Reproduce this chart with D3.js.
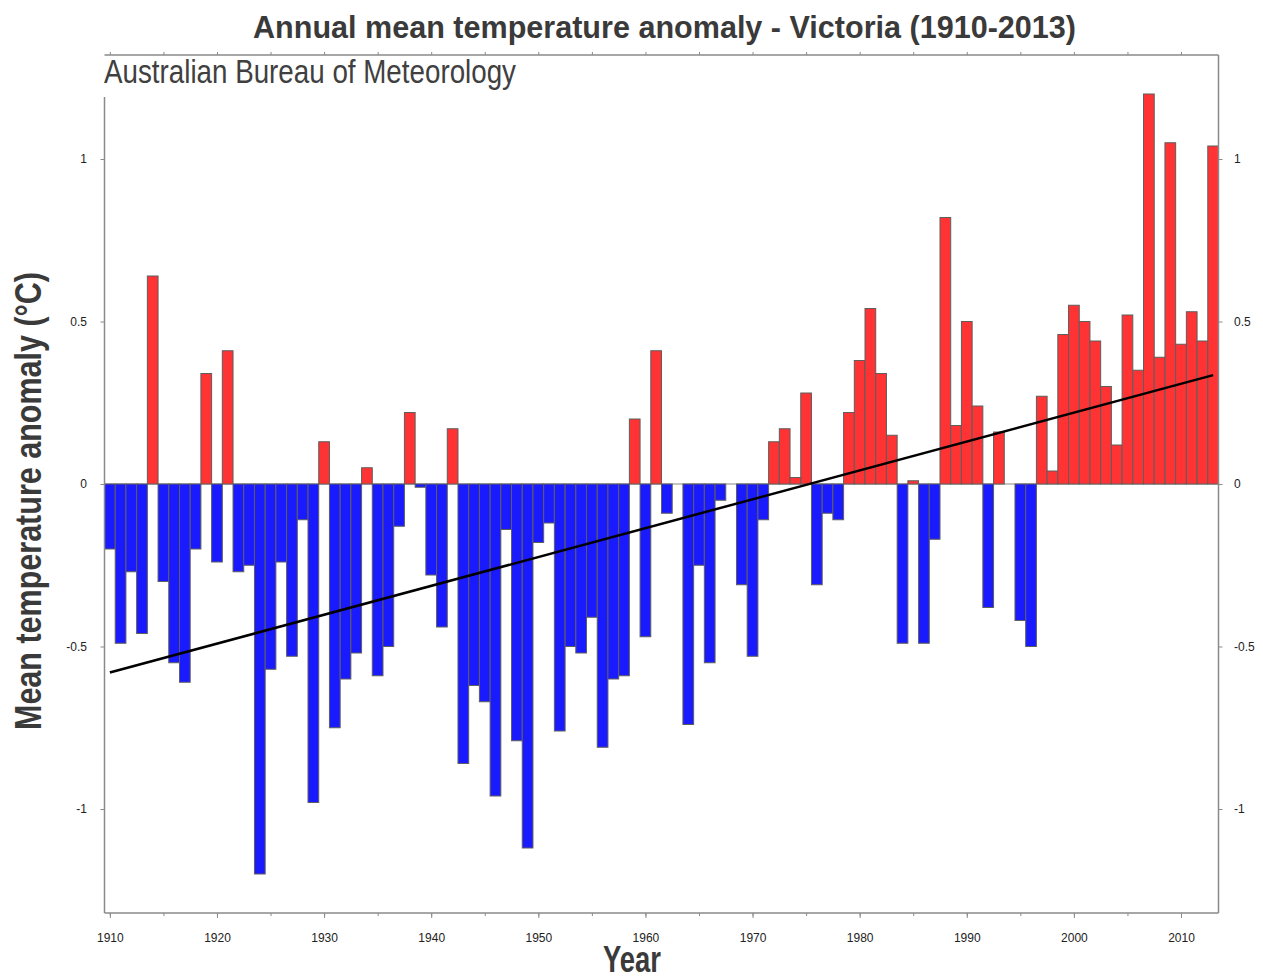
<!DOCTYPE html>
<html>
<head>
<meta charset="utf-8">
<script src="https://cdn.jsdelivr.net/npm/d3@7"></script>
<style>
  body { margin: 0; background: #fff; }
  svg { display: block; }
</style>
</head>
<body>
<div class="chart"></div>
<script>
// anomaly data
var years = d3.range(1910, 2014);
var anomalies = [
  -0.20, -0.49, -0.27, -0.46, 0.64, -0.30, -0.55, -0.61, -0.20, 0.34,
  -0.24, 0.41, -0.27, -0.25, -1.20, -0.57, -0.24, -0.53, -0.11, -0.98,
  0.13, -0.75, -0.60, -0.52, 0.05, -0.59, -0.50, -0.13, 0.22, -0.01,
  -0.28, -0.44, 0.17, -0.86, -0.62, -0.67, -0.96, -0.14, -0.79, -1.12,
  -0.18, -0.12, -0.76, -0.50, -0.52, -0.41, -0.81, -0.60, -0.59, 0.20,
  -0.47, 0.41, -0.09, 0.00, -0.74, -0.25, -0.55, -0.05, 0.00, -0.31,
  -0.53, -0.11, 0.13, 0.17, 0.02, 0.28, -0.31, -0.09, -0.11, 0.22,
  0.38, 0.54, 0.34, 0.15, -0.49, 0.01, -0.49, -0.17, 0.82, 0.18,
  0.50, 0.24, -0.38, 0.16, 0.00, -0.42, -0.50, 0.27, 0.04, 0.46,
  0.55, 0.50, 0.44, 0.30, 0.12, 0.52, 0.35, 1.20, 0.39, 1.05,
  0.43, 0.53, 0.44, 1.04
];
var trendYears = [1910, 2013];
var trendValues = [-0.58, 0.335];
var yTicks = [-1, -0.5, 0, 0.5, 1];
var xMajorTicks = d3.range(1910, 2011, 10);
var xMinorTicks = d3.range(1910, 2014, 5);

var svgWidth = 1263;
var svgHeight = 976;

var plot = { left: 104.5, right: 1218.5, top: 55, bottom: 913 };

var svg = d3.select(".chart")
  .append("svg")
  .attr("width", svgWidth)
  .attr("height", svgHeight);

var x = d3.scaleLinear()
  .domain([1909.5, 2013.5])
  .range([plot.left, plot.right]);

var y = d3.scaleLinear()
  .domain([-1.32, 1.32])
  .range([plot.bottom, plot.top]);

var data = years.map(function(yr, i) {
  return { year: yr, value: anomalies[i] };
});

// zero line
svg.append("line")
  .attr("x1", plot.left).attr("x2", plot.right)
  .attr("y1", y(0)).attr("y2", y(0))
  .attr("stroke", "#8a8a8a")
  .attr("stroke-width", 1);

// bars
svg.append("g")
  .selectAll("rect")
  .data(data.filter(function(d) { return d.value !== 0; }))
  .enter()
  .append("rect")
  .attr("x", function(d) { return x(d.year - 0.5); })
  .attr("width", function(d) { return x(d.year + 0.5) - x(d.year - 0.5); })
  .attr("y", function(d) { return y(Math.max(0, d.value)); })
  .attr("height", function(d) { return Math.abs(y(d.value) - y(0)); })
  .attr("fill", function(d) { return d.value > 0 ? "#ff3333" : "#1a1aff"; })
  .attr("stroke", "#5e5e5e")
  .attr("stroke-width", 1);

// trend line
var line = d3.line()
  .x(function(d) { return x(d[0]); })
  .y(function(d) { return y(d[1]); });

svg.append("path")
  .datum(trendYears.map(function(yr, i) { return [yr, trendValues[i]]; }))
  .attr("d", line)
  .attr("fill", "none")
  .attr("stroke", "#000")
  .attr("stroke-width", 2.5);

// axes
function styleAxis(g) {
  g.select(".domain").remove();
  g.selectAll(".tick line").attr("stroke", "#8a8a8a");
  g.selectAll(".tick text")
    .attr("fill", "#222")
    .style("font-family", "'Liberation Sans', Arial, sans-serif")
    .style("font-size", "12px");
}

svg.append("g")
  .attr("transform", "translate(0," + plot.bottom + ")")
  .call(d3.axisBottom(x).tickValues(xMinorTicks).tickSize(3).tickFormat(""))
  .call(styleAxis);

svg.append("g")
  .attr("transform", "translate(0," + plot.bottom + ")")
  .call(d3.axisBottom(x).tickValues(xMajorTicks).tickSize(5).tickPadding(15.5)
    .tickFormat(d3.format("d")))
  .call(styleAxis);

svg.append("g")
  .attr("transform", "translate(0," + plot.top + ")")
  .call(d3.axisTop(x).tickValues(xMinorTicks).tickSize(3).tickFormat(""))
  .call(styleAxis);

svg.append("g")
  .attr("transform", "translate(" + plot.left + ",0)")
  .call(d3.axisLeft(y).tickValues(yTicks).tickSize(4).tickPadding(13.5)
    .tickFormat(function(d) { return String(d); }))
  .call(styleAxis);

svg.append("g")
  .attr("transform", "translate(" + plot.right + ",0)")
  .call(d3.axisRight(y).tickValues(yTicks).tickSize(4).tickPadding(11.5)
    .tickFormat(function(d) { return String(d); }))
  .call(styleAxis);

// frame
var frame = svg.append("g")
  .attr("stroke", "#8a8a8a")
  .attr("stroke-width", 1.5)
  .attr("fill", "none");
frame.append("line").attr("x1", plot.left).attr("x2", plot.right).attr("y1", plot.top).attr("y2", plot.top);
frame.append("line").attr("x1", plot.left).attr("x2", plot.right).attr("y1", plot.bottom).attr("y2", plot.bottom);
frame.append("line").attr("x1", plot.right).attr("x2", plot.right).attr("y1", plot.top).attr("y2", plot.bottom);
frame.append("line").attr("x1", plot.left).attr("x2", plot.left).attr("y1", 97).attr("y2", plot.bottom);

// titles
var narrow = "'Liberation Sans Narrow', 'Arial Narrow', 'Liberation Sans', Arial, sans-serif";

svg.append("text")
  .attr("x", 664.5).attr("y", 38)
  .attr("text-anchor", "middle")
  .attr("textLength", 823).attr("lengthAdjust", "spacingAndGlyphs")
  .style("font-family", narrow).style("font-weight", "bold").style("font-size", "31px")
  .attr("fill", "#3a3a3a")
  .text("Annual mean temperature anomaly - Victoria (1910-2013)");

svg.append("text")
  .attr("x", 104).attr("y", 83)
  .attr("textLength", 412).attr("lengthAdjust", "spacingAndGlyphs")
  .style("font-family", narrow).style("font-size", "33px")
  .attr("fill", "#404040")
  .text("Australian Bureau of Meteorology");

svg.append("text")
  .attr("transform", "translate(41,501) rotate(-90)")
  .attr("text-anchor", "middle")
  .attr("textLength", 458).attr("lengthAdjust", "spacingAndGlyphs")
  .style("font-family", narrow).style("font-weight", "bold").style("font-size", "37px")
  .attr("fill", "#3a3a3a")
  .text("Mean temperature anomaly (°C)");

svg.append("text")
  .attr("x", 632).attr("y", 972)
  .attr("text-anchor", "middle")
  .attr("textLength", 58).attr("lengthAdjust", "spacingAndGlyphs")
  .style("font-family", narrow).style("font-weight", "bold").style("font-size", "37px")
  .attr("fill", "#3a3a3a")
  .text("Year");
</script>
</body>
</html>
